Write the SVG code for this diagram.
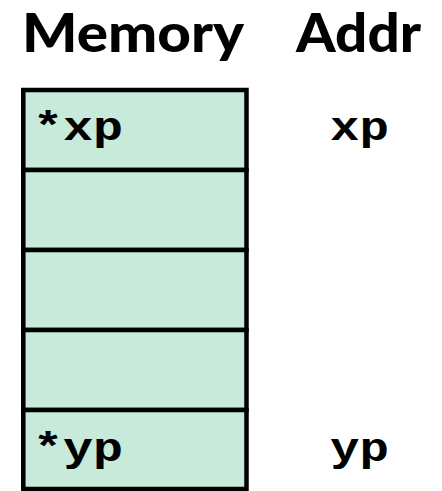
<svg xmlns="http://www.w3.org/2000/svg" width="442" height="491" viewBox="0 0 442 491">
<style>
.hdr{font-family:"Lato","Open Sans","Liberation Sans",sans-serif;font-weight:900;font-size:54px;fill:#000}
.code{font-family:"Liberation Mono","DejaVu Sans Mono",monospace;font-weight:bold;font-size:41px;fill:#000}
.cell{fill:#c7eadb;stroke:#000;stroke-width:4.5}
</style>
<rect width="442" height="491" fill="#fff"/>
<g id="headers">
<text class="hdr" x="22" y="52" textLength="222" lengthAdjust="spacingAndGlyphs">Memory</text>
<text class="hdr" x="296" y="52" textLength="125" lengthAdjust="spacingAndGlyphs">Addr</text>
</g>
<g id="memory">
<g id="cell0"><rect class="cell" x="23.3" y="90" width="223.2" height="80"/><text class="code" x="33" y="140" textLength="90" lengthAdjust="spacingAndGlyphs">*xp</text></g>
<g id="cell1"><rect class="cell" x="23.3" y="170" width="223.2" height="80"/></g>
<g id="cell2"><rect class="cell" x="23.3" y="250" width="223.2" height="80"/></g>
<g id="cell3"><rect class="cell" x="23.3" y="330" width="223.2" height="80"/></g>
<g id="cell4"><rect class="cell" x="23.3" y="410" width="223.2" height="79"/><text class="code" x="33" y="461" textLength="90" lengthAdjust="spacingAndGlyphs">*yp</text></g>
</g>
<g id="addrs">
<text class="code" x="330" y="140" textLength="59" lengthAdjust="spacingAndGlyphs">xp</text>
<text class="code" x="330" y="461" textLength="59" lengthAdjust="spacingAndGlyphs">yp</text>
</g>
</svg>
